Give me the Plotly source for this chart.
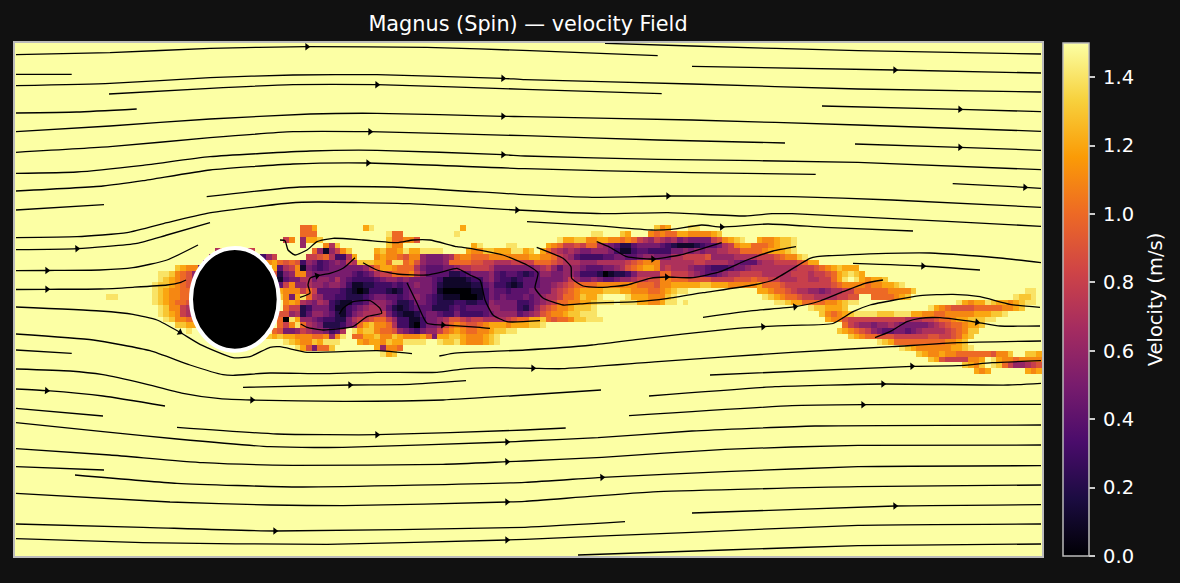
import math
import plotly.graph_objects as go

TITLE = "Magnus (Spin) — velocity Field"
COLORBAR_TITLE = "Velocity (m/s)"
N_COLS = 180
N_ROWS = 90
FREE_STREAM = 1.5
# value codes: tenths of m/s, in base 16 ('.' = free stream); (first column, cells)
WAKE = {
 32: [(50, "AAC"), (61, "CE"), (78, "C"), (112, "DBC"), (118, "EE")],
 33: [(50, "AAA"), (65, "EAA"), (77, "E"), (101, "EE"), (106, "DC"), (111, "BA"), (113, "BAACCBBBBCD")],
 34: [(47, "8B.6CCD"), (65, "DAABB9"), (95, "ECCDDBBCCBBABA8768778"), (113, "76756555589BCDE"), (130, "CBBCDDE")],
 35: [(50, "6"), (54, "B7D"), (65, "DBB"), (80, "CE"), (86, "EE"), (93, "CBA8898AA76542245555655"), (113, "432111234457" "8BCCAAABCDDE")],
 36: [(35, "7B"), (40, "78"), (52, "A6168BD"), (63, "CDBBCECCEEEE"), (79, "C"), (80, "BBDDCCCEECD.CA8767655666531134433333"), (113, "335565656677" "88AAAABCCCDE")],
 37: [(34, "6"), (43, "368"), (51, "889A7337C"), (63, "BCBBA9BB655567ABB"), (80, "AAABBBBBBBCCBBA876433334455445665556"), (113, "5577" "8888" "9" "6666" "7777" "888" "9ABBDE")],
 38: [(33, "77"), (44, "BCA"), (47, "9A93653456587DDDCCAEEAB965556AAAA99"), (80, "99887778888AAA987776667777789ABBBAAA"), (113, "7777778877776544467788889ACC")],
 39: [(28, "DCBB4"), (45, "C"), (46, "478B1543455555568ACCBAAA754445567778"), (80, "8887555555567864666544455679ABCCBBBB"), (113, "7877765543334556" "77777777" "8889" "ABCDCCC")],
 40: [(25, "EEDBA962"), (45, "9"), (46, "256BB655555554345788AAAB864444223455"), (80, "555643443234665566533320122357777877"), (113, "AA888765445677" "8888" "77777" "8887889" "ACDEDC")],
 41: [(25, "EDCBA973"), (46, "1455775665754" "3333456656" "555543" "1111233"), (80, "335643323" "444" "5555" "686" "5565" "445" "667" "8899998"), (113, "BBAAA" "9999" "8888" "999A" "99" "88" "777" "88" "77" "88" "ACE.ECB"), (150, "CCD")],
 42: [(24, "EDDCBA988"), (46, "48B667665665" "31122333" "43456554" "21111122"), (80, "2245332124" "44556789" "AAAA" "BBBBBBB" "AAA" "99AA"), (113, "BB" "CCCCC" "DD" "CCC" "BBBBB" "C" "AAA" "9" "88888888" "9A" "BBBB" "A"), (150, "BBCCDE")],
 43: [(24, "EDCBBAAA9"), (46, "CBBB8A84444" "32101333212" "455554" "10000011"), (80, "1135443444" "5555" "789AB" "CCCC" "DDD" "CC" "BBB" "AA"), (113, "BCDEE"), (130, "CCBAA987766567788"), (147, "AAAAAA" "BBBB" "D"), (177, "EE")],
 44: [(16, "EE"), (24, "EDCBBAAA9"), (46, "DB5CEA764433" "2223455443456543" "21110001"), (80, "0135454445" "456778" "AABDCCE" "...." "ECCCBBAAA"), (113, "BDE."), (131, "EDCBAA98877778899"), (150, "AAAABCD"), (175, "EDDE")],
 45: [(24, "EDCBAA9A"), (46, ".BCB76576321" "1334666542235543" "22233223"), (80, "2336555533" "45678" "AABB" "CC" "D" "EEE" "." "EEE" "CC" "BBBBB"), (113, "CEE"), (117, "E"), (133, "EEDCCAAA"), (141, "ABBCDEE"), (165, "ECBCC"), (170, "EDCCBCDEE")],
 46: [(25, "EDBB874"), (46, ".A8823555311" "3456776421234442" "22343444"), (80, "44466555324689ABBCDDDE"), (139, "EDDCC"), (144, "CD"), (160, "ECBA9999AAAAABBCD")],
 47: [(25, "EDCB876"), (46, "996724665421" "3567778532112455" "43353334"), (80, "3345666645679ABBCDDEEE"), (141, "DBABCDEEEEDDDEEECCBBAABBBBBCCCDDE")],
 48: [(26, "EDBBAA"), (46, "A0EC66543322" "57889AA863311355" "67998788"), (80, "88777789AACC" "DA9AABDDEEE"), (142, "CBB9" "8888888888" "77788" "9AABCCDDDEE")],
 49: [(28, "DDCC"), (46, "A8BEA7652223" "56ACDBBA73310355" "68ABA999"), (80, "9ABCCCBCCCDDE"), (145, "A876656676555556789AABCCD")],
 50: [(30, "E"), (45, "A"), (46, "955687665347" ".ECDDBAA96543566" "8ABCBAAA"), (80, "ABBCDDEE"), (144, "DCBA98654455456777789ABDD")],
 51: [(44, "DC"), (46, "DCCBBBAAB6BE" ".AACCDBBDCBBBCA5" "CCDDCBBB"), (82, "CDE"), (146, "DCBAA999" "888888" "99889ACD")],
 52: [(47, "EDCBBDCEEE"), (60, "CBCCBDCCEEEE"), (74, "EDDECBBBCDE"), (151, "EDC" "AAAAAAAAA" "BBCD")],
 53: [(49, "EC95AAD"), (63, "C6BBA"), (155, "EDCBBBBBBCCDE")],
 54: [(64, "ECD"), (158, "DCBBCBBAAAAAA9BBD"), (177, "DDC")],
 55: [(160, "DC98888BBC.ECBBABBBB")],
 56: [(166, "DCBD.EDA866789")],
 57: [(168, "CBC"), (177, "CBC")],
}

STREAMLINES = [
 [(16,54.7),(110,52.7),(210,48.3),(307,46.7),(427,47.3),(530,50.7),(657.7,55.7)],
 [(16,74.3),(71.7,74.3)],
 [(16,85.7),(110,83.3),(210,77.7),(293,75),(377,74.7),(503,78.3),(525,79.7),(692,84),(858,89),(1041,92)],
 [(109,94),(210,88.3),(293,84.7),(377,84.7),(525,89.3),(661.7,93.7)],
 [(16,113),(76.7,112),(136.7,109)],
 [(16,131.7),(110,126),(210,119),(310,114),(377,113.3),(503,116.3),(525,116.7),(692,120),(858,125),(1041,131.3)],
 [(16,152.3),(110,146.7),(210,137.7),(293,131.7),(370,131.7),(525,135.7),(658,140),(785,143)],
 [(16,173.3),(76.7,172),(143,165.3),(210,156.7),(310,151),(377,150.3),(503,154.7),(525,156),(658,159.3),(858,162.3),(1041,169.7)],
 [(16,191),(103,186),(143,180.7),(210,170),(293,164),(368,163),(525,168.7),(692,172.7),(815.7,174.3)],
 [(16,210),(104,204.7)],
 [(206.7,196.7),(300,187),(393,187),(525,194.7),(592,197.3),(668,196),(792,196.7),(892,200),(1041,207.3)],
 [(16,237.7),(77,236.7),(127,232.7),(167,222.7),(207,213.3),(290,203),(317,202),(410,203.7),(517,210),(602,213.7),(668,212.7),(745,216),(772,213.7),(792,213.7),(952,221.7),(1041,226.3)],
 [(16,249.7),(77,248.7),(137,243.3),(167,235),(210,222.7)],
 [(16,270.7),(47,270.5),(100,270),(133,267.7),(167,260),(198,245)],
 [(16,289.5),(47,289.3),(100,289),(133,287.3),(167,285),(180,282.7),(186,280)],
 [(16,307),(100,311),(133,314.3),(157,320),(180,332.3),(200,344.3),(233,357.7),(250,356.7),(270,347.3),(280,346.7),(307,352.3),(377,350.7),(412,353.7)],
 [(16,350),(71.7,353.3)],
 [(16,334),(93.3,340),(150,350.7),(190,365),(223,374.7),(233,375.3),(270,373),(323,373.7),(377,372.3),(437,372.3),(460,369.3),(493,367.7),(533,368.3),(562,368.7),(658,361.7),(792,352.3),(892,346.7),(958,342.7),(1041,341)],
 [(527,221.7),(592,225.3),(651.7,230),(671.7,229.3),(701.7,225),(721.7,227),(768,224),(825,227.3),(913,231)],
 [(596.7,241.7),(610,247.3),(626.7,256.7),(653,259),(680,255),(703,248.3),(721.7,242.7)],
 [(536.7,247.3),(563,258.3),(571,266.7),(571.7,278.3),(583,286),(603,287.3),(627,285),(650,278.3),(666.7,277),(693,277.7),(720,271.7),(747,260),(773,251),(796,246.7)],
 [(280,240),(285,240.7),(288,250),(295,255),(307,250),(317,241.7),(333,238.3),(363,240),(397,242.7),(413,240),(430,240),(457,246.7),(470,248.3),(503,255),(527,265),(538,273),(535,288),(543,298),(563,305),(587,303.3),(637,301.7),(668,298.3),(703,292.7),(753,285),(773,280),(810,258.3),(817,256.7),(860,254.3),(930,253),(1000,258),(1041,262.7)],
 [(853,263.3),(923,266),(980,270)],
 [(703,317.3),(753,310.7),(795,306.7),(820,301),(843,291.7),(865,283.3),(883,280)],
 [(439.3,356),(453,353.3),(525,350),(592,345),(638,339.3),(727,329.3),(763,326.7),(793,325.3),(833,323.5),(853,311.7),(870,305),(920,295.7),(953,294.3),(980,296.7),(1010,304.3),(1040,307.3)],
 [(875,337.7),(890,331.7),(907,321.7),(920,318.3),(940,317.7),(977,322.3),(1000,326),(1040,326)],
 [(710,375),(912,366.3),(958,365.7),(992,362.7),(1041,360.7)],
 [(243,387.3),(350,385),(410,384.3),(466,380.7)],
 [(16,369),(70,371),(103,374.7),(143,383.3),(183,393.3),(220,398.7),(252,400),(343,401.3),(443,400),(525,395),(601,390)],
 [(16,389),(46.7,390.7),(103,396),(165,406)],
 [(649,396),(775,386.7),(883,384),(1008,385),(1041,383.3)],
 [(16,408.3),(103,416)],
 [(16,422.7),(103,431.7),(177,439),(270,446.7),(343,447.3),(507,442),(525,441),(598,437.7),(692,431),(815,426),(1041,425)],
 [(177,427.3),(277,434),(377,434.7),(525,430),(565.7,428)],
 [(629,415.7),(792,405.7),(863,404.7),(1041,404.3)],
 [(16,448.7),(110,455),(203,462.7),(293,465.3),(443,464.3),(507,461.7),(525,461),(602,457.3),(725,449.3),(858,445.3),(1041,445)],
 [(16,466.7),(104,470)],
 [(75,475),(177,483.3),(300,487),(525,482.3),(602,477.3),(725,471.7),(858,466.7),(1041,465.7)],
 [(16,493.3),(170,502),(270,505),(343,505.7),(507,502),(525,501.3),(658,491.7),(858,486.7),(1041,485)],
 [(16,524),(143,527.3),(275,531),(525,527.3),(625,521.7)],
 [(692,513),(895,506),(1041,504.7)],
 [(16,538.7),(143,542.7),(327,544.3),(507,540),(525,539.3),(692,532.3),(858,525.3),(1041,524)],
 [(578,555),(725,550),(858,545.7),(1041,544)],
 [(605,43.3),(692,46),(858,50.7),(1041,54)],
 [(692,66.3),(895,70),(1041,73)],
 [(822,106),(960,109.3),(1041,111.7)],
 [(855,144),(960,147.3),(1041,150.3)],
 [(952.7,183.7),(1025,187.3),(1041,188.3)],
 [(300,297.3),(310,293.3),(308,285),(310,278.3),(317,275.7),(330,273.3),(343,268.3),(355,257.7)],
 [(363,262.7),(377,270),(397,274),(427,275),(443,271.7),(457,268.3),(470,275),(480,280),(485,300),(493,315),(507,321.7),(540,320.7)],
 [(407,282.7),(417,303.3),(427,323.3),(443,325),(480,327.3),(490,328.3)],
 [(300.7,324),(307,327.3),(323,330),(353,326.7),(367,316.7),(381.7,313.3),(380,308.3),(370,300.7),(353,301.7),(343,308.3),(339.3,314.3)],
]
ARROW_POINTS = [(307,46.7),(503,78.3),(377,84.7),(503,116.3),(370,131.7),(503,154.7),(368,163),(668,196),(517,210),
 (77,248.7),(47,270.5),(47,289.3),(180,332.3),(895,70),(960,109.3),(960,147.3),(1025,187.3),(721.7,227),(653,259),
 (666.7,277),(923,266),(795,306.7),(763,326.7),(977,322.3),(533,368.3),(912,366.3),(350,385),(252,400),(46.7,390.7),
 (883,384),(507,442),(377,434.7),(863,404.7),(507,461.7),(602,477.3),(507,502),(275,531),(895,506),(507,540),
 (317,275.7),(443,325)]

CYLINDER_X = (191, 278.7)
CYLINDER_Y = (248, 350.7)

X_RANGE = (15, 1042)
Y_RANGE = (556, 43)

# ---- build the field
CODES = {c: int(c, 16) / 10 for c in "0123456789ABCDE"}
CODES["."] = FREE_STREAM
z = [[FREE_STREAM] * N_COLS for _ in range(N_ROWS)]
for row, segments in WAKE.items():
    for start, text in segments:
        for k, c in enumerate(text):
            if start + k < N_COLS:
                z[row][start + k] = CODES[c]

cell_w = (X_RANGE[1] - X_RANGE[0]) / N_COLS
cell_h = (Y_RANGE[0] - Y_RANGE[1]) / N_ROWS

fig = go.Figure()
fig.add_trace(go.Heatmap(
    z=z, x0=X_RANGE[0] + cell_w / 2, dx=cell_w, y0=Y_RANGE[1] + cell_h / 2, dy=cell_h,
    colorscale="Inferno", zmin=0, zmax=1.5, zsmooth=False, hoverinfo="skip",
    colorbar=dict(
        x=(1063 - 15) / 1027, xanchor="left", xpad=0, ypad=0, y=0.5, yanchor="middle", len=1, lenmode="fraction",
        thickness=26, thicknessmode="pixels", outlinecolor="#bbbbbb", outlinewidth=1.5,
        tickmode="linear", tick0=0, dtick=0.2, tickformat=".1f",
        tickprefix="\u2009", ticksuffix="\u2009\u2009",
        ticks="outside", ticklen=6, tickwidth=1.5, tickcolor="#cccccc",
        tickfont=dict(family="DejaVu Sans", size=19.5, color="white"),
        title=dict(text=COLORBAR_TITLE, side="right", font=dict(family="DejaVu Sans", size=19.5, color="white")),
    ),
))
for line in STREAMLINES:
    fig.add_trace(go.Scatter(
        x=[p[0] for p in line], y=[p[1] for p in line], mode="lines",
        line=dict(color="black", width=1.3, shape="spline", smoothing=0.5),
        showlegend=False, hoverinfo="skip"))

angles = []
for ax, ay in ARROW_POINTS:
    best = None
    for line in STREAMLINES:
        for k, p in enumerate(line):
            d = abs(p[0] - ax) + abs(p[1] - ay)
            if best is None or d < best[0]:
                best = (d, line, k)
    _, line, k = best
    a = line[max(k - 1, 0)]
    b = line[min(k + 1, len(line) - 1)]
    angles.append(math.degrees(math.atan2(b[1] - a[1], b[0] - a[0])))
fig.add_trace(go.Scatter(
    x=[p[0] for p in ARROW_POINTS], y=[p[1] for p in ARROW_POINTS], mode="markers",
    marker=dict(symbol="triangle-right", size=6.5, color="black", angle=angles, line=dict(width=0)),
    showlegend=False, hoverinfo="skip"))

fig.add_shape(type="circle", xref="x", yref="y", x0=CYLINDER_X[0], x1=CYLINDER_X[1],
              y0=CYLINDER_Y[0], y1=CYLINDER_Y[1], fillcolor="black",
              line=dict(color="white", width=4), layer="above")

axis = dict(showticklabels=False, ticks="", showgrid=False, zeroline=False,
            showline=True, mirror=True, linecolor="#bbbbbb", linewidth=1.5)
fig.update_layout(
    width=1180, height=583,
    margin=dict(l=15, r=138, t=43, b=27, autoexpand=False),
    paper_bgcolor="#111111", plot_bgcolor="#fcffa4",
    title=dict(text=TITLE, x=528 / 1180, xanchor="center", xref="container",
               y=1 - 24 / 583, yref="container", yanchor="middle",
               font=dict(family="DejaVu Sans", size=20.8, color="white")),
    xaxis=dict(range=list(X_RANGE), **axis),
    yaxis=dict(range=list(Y_RANGE), **axis),
    showlegend=False,
)
fig.write_html("out.html", config={"displayModeBar": False},
               post_script="document.body.style.margin='0';document.body.style.background='#111111';document.documentElement.style.overflow='hidden';")
